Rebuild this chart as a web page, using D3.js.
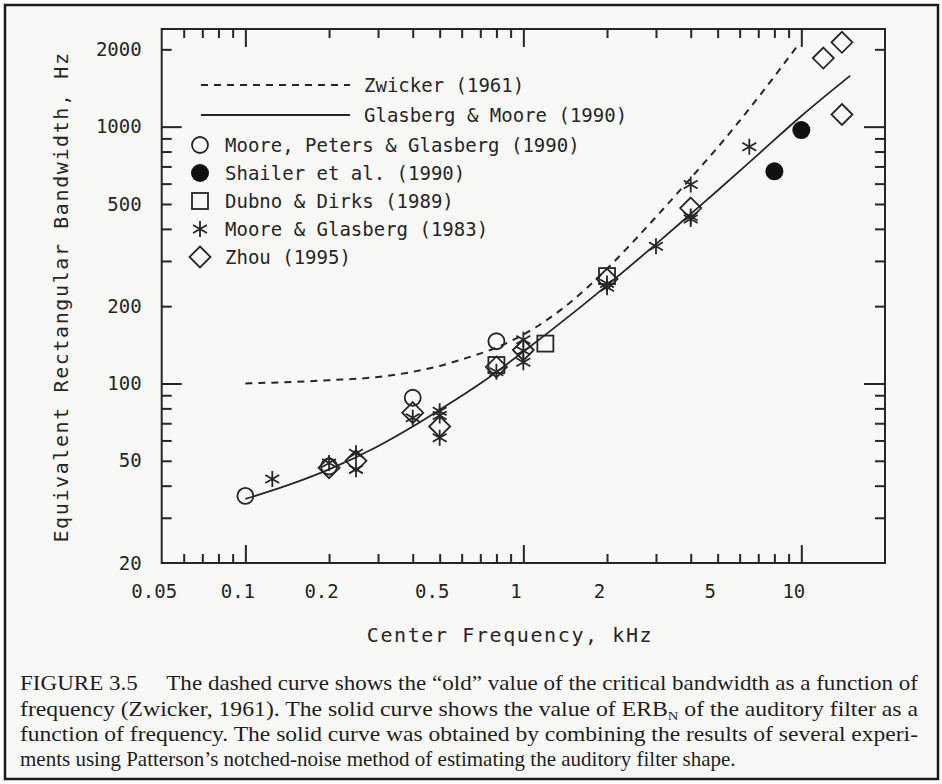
<!DOCTYPE html>
<html>
<head>
<meta charset="utf-8">
<script src="https://cdn.jsdelivr.net/npm/d3@7"></script>
<style>
  html, body { margin: 0; padding: 0; background: #ffffff; }
  svg { display: block; }
</style>
</head>
<body>
<svg id="chart" width="942" height="784"></svg>
<script>
// ---------------- data ----------------
const xTickLabels = [0.05, 0.1, 0.2, 0.5, 1, 2, 5, 10];
const yTickLabels = [20, 50, 100, 200, 500, 1000, 2000];
const xMajorTicks = [0.1, 1, 10];
const xMinorTicks = [0.06, 0.07, 0.08, 0.09, 0.2, 0.3, 0.4, 0.5, 0.6, 0.7, 0.8, 0.9, 2, 3, 4, 5, 6, 7, 8, 9];
const yMajorTicks = [100, 1000];
const yMinorTicks = [30, 40, 50, 60, 70, 80, 90, 200, 300, 400, 500, 600, 700, 800, 900, 2000];

// Zwicker (1961) dashed curve
const zwickerFreq = [0.1, 0.2, 0.3, 0.4, 0.5, 0.6, 0.8, 1, 1.5, 2, 3, 4, 5, 7, 9.8];
const zwickerCB   = [100, 103, 106, 111, 117, 124, 138, 155, 210, 280, 445, 630, 830, 1300, 2100];

// Glasberg & Moore (1990) solid curve
const gmFreq = [0.1, 0.15, 0.2, 0.3, 0.4, 0.5, 0.7, 1, 1.5, 2, 3, 4, 5, 7, 10, 15];
const gmERB  = [35.5, 41, 46.3, 57, 68, 79, 100, 133, 187, 241, 349, 457, 564, 780, 1100, 1580];

// Moore, Peters & Glasberg (1990) - open circles
const mpgFreq = [0.1, 0.2, 0.4, 0.8];
const mpgERB  = [36.5, 47.5, 88, 146];
// Shailer et al. (1990) - filled circles
const shailerFreq = [8, 10];
const shailerERB  = [670, 970];
// Dubno & Dirks (1989) - squares
const dubnoFreq = [0.8, 1.2, 2];
const dubnoERB  = [118, 143, 262];
// Moore & Glasberg (1983) - asterisks
const mg83Freq = [0.125, 0.2, 0.25, 0.25, 0.4, 0.5, 0.5, 0.5, 0.8, 1, 1, 1, 2, 2, 3, 4, 4, 4, 6.5];
const mg83ERB  = [42.5, 49, 53.5, 46.3, 73.5, 78, 75, 61.5, 111, 148, 134, 121, 245, 237, 342, 595, 447, 437, 835];
// Zhou (1995) - diamonds
const zhouFreq = [0.2, 0.25, 0.4, 0.5, 0.8, 1, 2, 4, 12, 14, 14];
const zhouERB  = [47, 50, 77, 68, 116, 135, 255, 482, 1850, 2130, 1115];

const lineLegend = ["Zwicker (1961)", "Glasberg & Moore (1990)"];
const symbolLegend = ["Moore, Peters & Glasberg (1990)", "Shailer et al. (1990)", "Dubno & Dirks (1989)", "Moore & Glasberg (1983)", "Zhou (1995)"];
const symbolKinds = ["circle", "filled", "square", "asterisk", "diamond"];

const xTitle = "Center Frequency, kHz";
const yTitle = "Equivalent Rectangular Bandwidth, Hz";

const captionLines = [
  [{t: "FIGURE 3.5\u2003 The dashed curve shows the \u201Cold\u201D value of the critical bandwidth as a function of"}],
  [{t: "frequency (Zwicker, 1961). The solid curve shows the value of ERB"}, {t: "N", sub: true}, {t: " of the auditory filter as a"}],
  [{t: "function of frequency. The solid curve was obtained by combining the results of several experi-"}],
  [{t: "ments using Patterson\u2019s notched-noise method of estimating the auditory filter shape."}]
];

// ---------------- layout ----------------
const svg = d3.select("#chart");
const ink = "#262626";
const mono = "'DejaVu Sans Mono', 'Liberation Mono', monospace";
const L = 161.7, R = 885, T = 29, B = 563;

const x = d3.scaleLog().domain([0.05, 20]).range([L, R]);
const y = d3.scaleLog().domain([20, 2400]).range([B, T]);

// page background + frame
svg.append("rect").attr("x", 0).attr("y", 0).attr("width", 942).attr("height", 784).attr("fill", "#ffffff");
svg.append("rect").attr("x", 5).attr("y", 5).attr("width", 933).attr("height", 774)
  .attr("fill", "#f8f8f7").attr("stroke", "#1a1a1a").attr("stroke-width", 2.5);

// ---------------- axes ----------------
function tickAxis(axisFn, scale, values, size, tx, ty) {
  const g = svg.append("g").attr("transform", `translate(${tx},${ty})`)
    .call(axisFn(scale).tickValues(values).tickSize(size).tickSizeOuter(0).tickFormat(""));
  g.select(".domain").remove();
  g.selectAll(".tick line").attr("stroke", ink).attr("stroke-width", 2);
  return g;
}
// bottom (ticks point up)
tickAxis(d3.axisBottom, x, xMinorTicks, -9, 0, B);
tickAxis(d3.axisBottom, x, xMajorTicks, -18, 0, B);
// top (ticks point down)
tickAxis(d3.axisTop, x, xMinorTicks, -9, 0, T);
tickAxis(d3.axisTop, x, xMajorTicks, -18, 0, T);
// left (ticks point right)
tickAxis(d3.axisLeft, y, yMinorTicks, -10, L, 0);
tickAxis(d3.axisLeft, y, yMajorTicks, -20, L, 0);
// right (ticks point left)
tickAxis(d3.axisRight, y, yMinorTicks, -10, R, 0);
tickAxis(d3.axisRight, y, yMajorTicks, -21, R, 0);

// labels
const xl = svg.append("g").attr("transform", `translate(-8,${B})`)
  .call(d3.axisBottom(x).tickValues(xTickLabels).tickSize(0).tickPadding(22).tickFormat(d => String(d)));
xl.select(".domain").remove();
xl.selectAll("text").attr("font-family", mono).attr("font-size", 19).attr("fill", ink);

const yl = svg.append("g").attr("transform", `translate(${L},0)`)
  .call(d3.axisLeft(y).tickValues(yTickLabels).tickSize(0).tickPadding(20).tickFormat(d => String(d)));
yl.select(".domain").remove();
yl.selectAll("text").attr("font-family", mono).attr("font-size", 19).attr("fill", ink);

// plot box
svg.append("rect").attr("x", L).attr("y", T).attr("width", R - L).attr("height", B - T)
  .attr("fill", "none").attr("stroke", ink).attr("stroke-width", 2);

// axis titles
svg.append("text").attr("x", 510).attr("y", 642).attr("text-anchor", "middle")
  .attr("font-family", mono).attr("font-size", 20).attr("letter-spacing", 1.6).attr("fill", ink)
  .text(xTitle);
svg.append("text").attr("transform", "translate(68,297) rotate(-90)").attr("text-anchor", "middle")
  .attr("font-family", mono).attr("font-size", 20).attr("letter-spacing", 1.6).attr("fill", ink)
  .text(yTitle);

// ---------------- curves ----------------
const lineGen = d3.line().x(d => x(d[0])).y(d => y(d[1])).curve(d3.curveMonotoneX);
svg.append("path").datum(d3.zip(zwickerFreq, zwickerCB)).attr("d", lineGen)
  .attr("fill", "none").attr("stroke", ink).attr("stroke-width", 2).attr("stroke-dasharray", "7,6");
svg.append("path").datum(d3.zip(gmFreq, gmERB)).attr("d", lineGen)
  .attr("fill", "none").attr("stroke", ink).attr("stroke-width", 1.8);

// ---------------- markers ----------------
function drawMarker(g, kind, cx, cy) {
  if (kind === "circle") {
    g.append("circle").attr("cx", cx).attr("cy", cy).attr("r", 8)
      .attr("fill", "none").attr("stroke", ink).attr("stroke-width", 1.8);
  } else if (kind === "filled") {
    g.append("circle").attr("cx", cx).attr("cy", cy).attr("r", 9).attr("fill", "#111");
  } else if (kind === "square") {
    g.append("rect").attr("x", cx - 8).attr("y", cy - 8).attr("width", 16).attr("height", 16)
      .attr("fill", "none").attr("stroke", ink).attr("stroke-width", 1.8);
  } else if (kind === "diamond") {
    const r = 10.5;
    g.append("path").attr("d", `M${cx},${cy - r}L${cx + r},${cy}L${cx},${cy + r}L${cx - r},${cy}Z`)
      .attr("fill", "none").attr("stroke", ink).attr("stroke-width", 1.8);
  } else if (kind === "asterisk") {
    const r = 8, c = r * Math.cos(Math.PI / 6), s = r * Math.sin(Math.PI / 6);
    g.append("path").attr("d",
      `M${cx},${cy - r}L${cx},${cy + r}M${cx - c},${cy - s}L${cx + c},${cy + s}M${cx - c},${cy + s}L${cx + c},${cy - s}`)
      .attr("fill", "none").attr("stroke", ink).attr("stroke-width", 1.8);
  }
}
const markers = svg.append("g");
const series = [
  ["circle", mpgFreq, mpgERB],
  ["filled", shailerFreq, shailerERB],
  ["square", dubnoFreq, dubnoERB],
  ["asterisk", mg83Freq, mg83ERB],
  ["diamond", zhouFreq, zhouERB]
];
series.forEach(([kind, fs, vs]) => {
  fs.forEach((f, i) => drawMarker(markers, kind, x(f), y(vs[i])));
});

// ---------------- legend ----------------
const leg = svg.append("g");
const lineRows = [85, 115];
lineLegend.forEach((name, i) => {
  leg.append("line").attr("x1", 201).attr("x2", 350).attr("y1", lineRows[i]).attr("y2", lineRows[i])
    .attr("stroke", ink).attr("stroke-width", i === 0 ? 2 : 1.8)
    .attr("stroke-dasharray", i === 0 ? "7,6" : null);
  leg.append("text").attr("x", 364).attr("y", lineRows[i]).attr("dominant-baseline", "central")
    .attr("font-family", mono).attr("font-size", 19).attr("fill", ink).text(name);
});
const symRows = [145, 173, 201, 229, 257];
symbolLegend.forEach((name, i) => {
  drawMarker(leg, symbolKinds[i], 200, symRows[i]);
  leg.append("text").attr("x", 225).attr("y", symRows[i]).attr("dominant-baseline", "central")
    .attr("font-family", mono).attr("font-size", 19).attr("fill", ink).text(name);
});

// ---------------- caption ----------------
const capBase = [690, 716, 741, 766];
captionLines.forEach((parts, i) => {
  const t = svg.append("text").attr("x", 20).attr("y", capBase[i])
    .attr("font-family", "'Liberation Serif', 'Times New Roman', serif")
    .attr("font-size", 21).attr("fill", "#1e1e1e");
  parts.forEach(p => {
    const ts = t.append("tspan").text(p.t);
    if (p.sub) ts.attr("font-size", 13).attr("dy", 4);
    else if (parts.length > 1 && p !== parts[0]) ts.attr("dy", -4);
  });
  if (i < 3) t.attr("textLength", 898).attr("lengthAdjust", "spacingAndGlyphs");
});
</script>
</body>
</html>
